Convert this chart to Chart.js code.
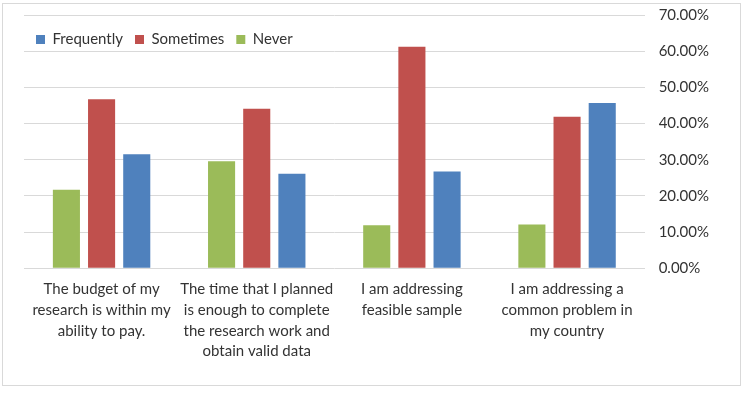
<!DOCTYPE html>
<html>
<head>
<meta charset="utf-8">
<script src="https://cdn.jsdelivr.net/npm/chart.js@4"></script>
<style>
  body { margin: 0; background: #fff; }
  #box { position: absolute; left: 2px; top: 3px; width: 737px; height: 381px; border: 1px solid #d9d9d9; }
  #chart { display: block; }
</style>
</head>
<body>
<div id="box"><canvas id="chart" width="737" height="381"></canvas></div>
<script>
// answers per statement
const categories = [
    ['The budget of my', 'research is within my', 'ability to pay.'],
    ['The time that I planned', 'is enough to complete', 'the research work and', 'obtain valid data'],
    ['I am addressing', 'feasible sample'],
    ['I am addressing a', 'common problem in', 'my country']
];
const never = [0.217, 0.296, 0.119, 0.121];
const sometimes = [0.467, 0.441, 0.612, 0.419];
const frequently = [0.315, 0.261, 0.267, 0.457];

Chart.defaults.font.family = 'Lato';
Chart.defaults.color = '#333';

const legendTop = 16;

// legend sits over the plot, so it should take no room of its own
const flatLegend = {
    id: 'flatLegend',
    afterInit(chart) {
        const lg = chart.legend;
        const fit = lg.fit.bind(lg);
        lg.fit = function () { fit(); this.realHeight = this.height; this.height = 0; };
    },
    afterLayout(chart) {
        const lg = chart.legend;
        lg.top = legendTop;
        lg.height = lg.realHeight;
        lg.bottom = lg.top + lg.height;
    }
};

const ctx = document.getElementById('chart').getContext('2d');
const myChart = new Chart(ctx, {
    type: 'bar',
    data: {
        labels: categories,
        datasets: [
            { label: 'Never', data: never, backgroundColor: '#9bbb59' },
            { label: 'Sometimes', data: sometimes, backgroundColor: '#c0504d' },
            { label: 'Frequently', data: frequently, backgroundColor: '#4f81bd' }
        ]
    },
    plugins: [flatLegend],
    options: {
        responsive: false,
        animation: false,
        categoryPercentage: 0.68,
        barPercentage: 0.77,
        layout: { padding: { left: 21, right: 17, top: 11, bottom: 12 } },
        plugins: {
            legend: {
                position: 'top',
                align: 'start',
                reverse: true,
                labels: { boxWidth: 9, boxHeight: 9, padding: 12, font: { size: 15 } }
            },
            tooltip: { enabled: false }
        },
        scales: {
            x: {
                grid: { display: false, drawTicks: false },
                border: { display: false },
                ticks: { maxRotation: 0, autoSkip: false, padding: 11, font: { size: 15, lineHeight: 1.38 } }
            },
            y: {
                position: 'right',
                min: 0,
                max: 0.7,
                grid: { color: '#d9d9d9', drawTicks: false },
                border: { display: false },
                afterFit(scale) { scale.paddingTop = 0; scale.paddingBottom = 0; },
                ticks: {
                    stepSize: 0.1,
                    padding: 14,
                    font: { size: 15 },
                    callback: v => (v * 100).toFixed(2) + '%'
                }
            }
        }
    }
});
</script>
</body>
</html>
